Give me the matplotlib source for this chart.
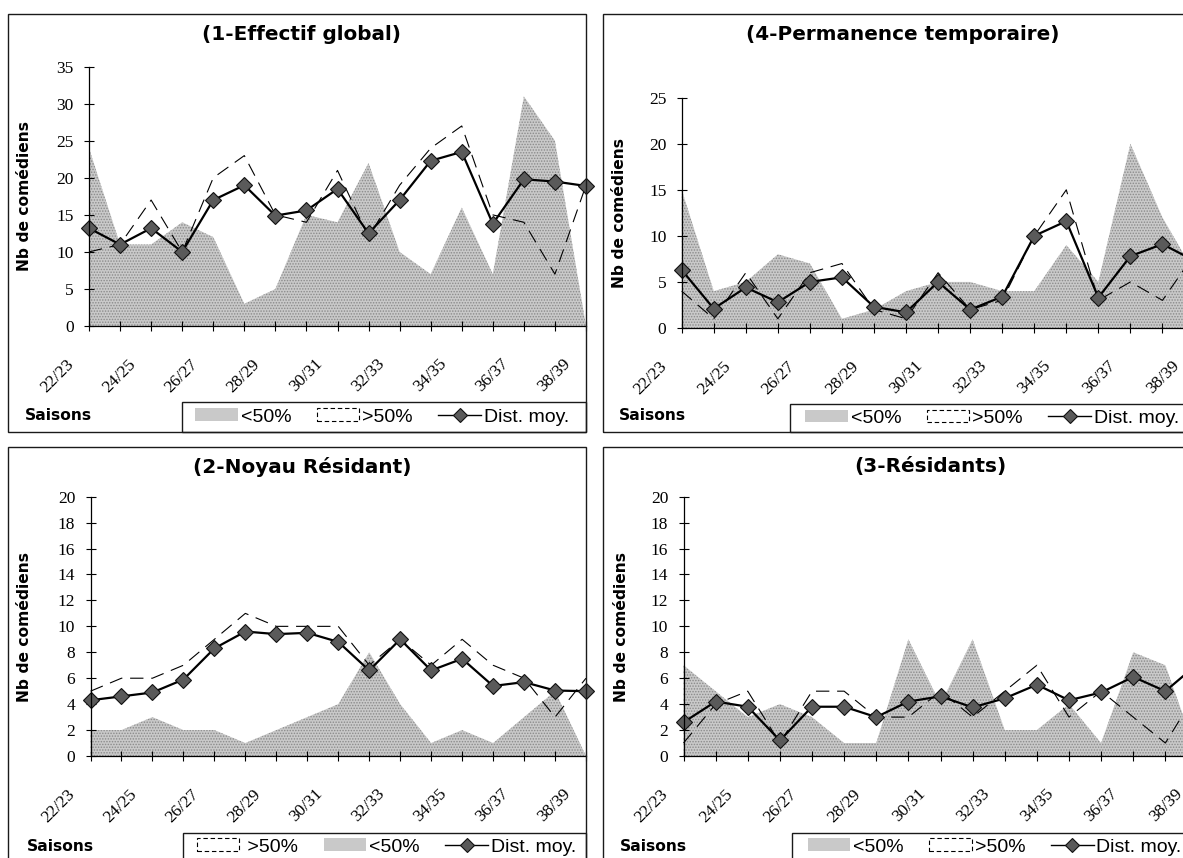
import matplotlib
matplotlib.use("Agg")
import matplotlib.pyplot as plt
from matplotlib.patches import Rectangle, Patch
from matplotlib.lines import Line2D
from matplotlib.transforms import ScaledTranslation

# ---------------- data ----------------
seasons = ["22/23", "23/24", "24/25", "25/26", "26/27", "27/28", "28/29", "29/30",
           "30/31", "31/32", "32/33", "33/34", "34/35", "35/36", "36/37", "37/38", "38/39"]

# (1-Effectif global)
lt50_1 = [24, 11, 11, 14, 12, 3, 5, 15, 14, 22, 10, 7, 16, 7, 31, 25, 0]
gt50_1 = [10, 11, 17, 10, 20, 23, 15, 14, 21, 12, 19, 24, 27, 15, 14, 7, 19]
dist_1 = [13.2, 11.0, 13.2, 10.0, 17.0, 19.0, 14.9, 15.6, 18.5, 12.5, 17.0, 22.3, 23.5, 13.8, 19.8, 19.5, 18.9]

# (4-Permanence temporaire)
lt50_4 = [15, 4, 5, 8, 7, 1, 2, 4, 5, 5, 4, 4, 9, 5, 20, 12, 6]
gt50_4 = [4, 1, 6, 1, 6, 7, 2, 1, 6, 2, 3, 10, 15, 3, 5, 3, 8]
dist_4 = [6.3, 2.1, 4.4, 2.8, 5.0, 5.5, 2.3, 1.7, 5.0, 2.0, 3.4, 10.0, 11.6, 3.3, 7.8, 9.1, 7.3]

# (2-Noyau Résidant)
lt50_2 = [2, 2, 3, 2, 2, 1, 2, 3, 4, 8, 4, 1, 2, 1, 3, 5, 0]
gt50_2 = [5, 6, 6, 7, 9, 11, 10, 10, 10, 7, 9, 7, 9, 7, 6, 3, 6]
dist_2 = [4.3, 4.6, 4.9, 5.9, 8.3, 9.6, 9.4, 9.5, 8.8, 6.6, 9.0, 6.6, 7.5, 5.4, 5.7, 5.05, 5.0]

# (3-Résidants)
lt50_3 = [7, 5, 3, 4, 3, 1, 1, 9, 4, 9, 2, 2, 4, 1, 8, 7, 0]
gt50_3 = [1, 4, 5, 1, 5, 5, 3, 3, 5, 3, 5, 7, 3, 5, 3, 1, 5]
dist_3 = [2.6, 4.2, 3.8, 1.2, 3.8, 3.8, 3.0, 4.2, 4.6, 3.75, 4.45, 5.5, 4.3, 4.9, 6.1, 5.0, 7.1]

lbl_lt = "<50%"
lbl_gt = ">50%"
lbl_dist = "Dist. moy."
ylabel = "Nb de comédiens"
xlabel = "Saisons"

# ---------------- styling ----------------
W, H = 1183, 858
plt.rcParams["hatch.color"] = "#8a8a8a"
plt.rcParams["hatch.linewidth"] = 0.7
GREY = "#c9c9c9"
HATCH = "......"
SERIF = "Liberation Serif"
SANS = "Liberation Sans"
BOLD = "DejaVu Sans"

fig = plt.figure(figsize=(W / 100, H / 100), dpi=100)
fig.patch.set_facecolor("white")


def fx(x):
    return x / W


def fy(y):
    return 1 - y / H


def frame(x0, y0, x1, y1, lw=1.0):
    fig.add_artist(Rectangle((fx(x0), fy(y1)), fx(x1) - fx(x0), fy(y0) - fy(y1),
                             transform=fig.transFigure, fill=False, ec="#1a1a1a", lw=lw))


def panel(title, lt, gt, dist, box, ax_px, ymax, ystep, title_xy, ylab_xy,
          sais_xy, leg_box, leg_anchor, order):
    frame(*box)
    left, top, right, bottom = ax_px
    ax = fig.add_axes([fx(left), fy(bottom), fx(right) - fx(left), fy(top) - fy(bottom)])
    x = list(range(len(seasons)))
    ax.fill_between(x, 0, lt, facecolor=GREY, hatch=HATCH, edgecolor="none", lw=0,
                    zorder=1, clip_on=False)
    ax.plot(x, gt, color="black", lw=0.8, dashes=(12, 7), zorder=3, clip_on=False)
    ax.plot(x, dist, color="black", lw=1.6, marker="D", markersize=8.5,
            mfc="#5a5a5a", mec="#111111", mew=0.8, zorder=4, clip_on=False)
    ax.set_xlim(0, len(seasons) - 1)
    ax.set_ylim(0, ymax)
    for s in ("top", "right"):
        ax.spines[s].set_visible(False)
    ax.spines["left"].set_linewidth(0.9)
    ax.spines["bottom"].set_linewidth(0.9)
    ax.spines["left"].set_zorder(5)
    ax.spines["bottom"].set_zorder(5)
    ax.patch.set_alpha(0)
    ax.set_yticks(list(range(0, ymax + 1, ystep)))
    ax.set_xticks(x)
    ax.set_xticklabels([])
    for t in ax.get_yticklabels():
        t.set_fontfamily(SERIF)
        t.set_fontsize(12.5)
    ax.tick_params(axis="y", direction="inout", length=7, width=0.8, pad=7.5)
    ax.tick_params(axis="x", direction="inout", length=6.5, width=0.8)

    # rotated season labels, every other season
    off = ScaledTranslation(-12 / 100, -30 / 100, fig.dpi_scale_trans)
    for i, s in enumerate(seasons):
        if i % 2 == 0:
            ax.text(i, 0, s, transform=ax.get_xaxis_transform() + off,
                    rotation=45, ha="right", va="top", fontfamily=SERIF,
                    fontsize=12.5, clip_on=False)

    fig.text(fx(title_xy[0]), fy(title_xy[1]), title, ha="center", va="center",
             fontfamily=BOLD, fontweight="bold", fontsize=14.4)
    fig.text(fx(ylab_xy[0]), fy(ylab_xy[1]), ylabel, ha="center", va="center",
             rotation=90, fontfamily=BOLD, fontweight="bold", fontsize=11.2)
    fig.text(fx(sais_xy[0]), fy(sais_xy[1]), xlabel, ha="left", va="baseline",
             fontfamily=BOLD, fontweight="bold", fontsize=11.2)

    # legend box
    frame(*leg_box)
    h_lt = Patch(facecolor=GREY, hatch=HATCH, edgecolor="none", lw=0)
    h_gt = Patch(facecolor="none", edgecolor="black", lw=0.8, linestyle=(0, (4, 2.5)))
    h_d = Line2D([], [], color="black", lw=1.0, marker="D", markersize=7,
                 mfc="#5a5a5a", mec="#111111", mew=0.8)
    hmap = {"lt": (h_lt, lbl_lt), "gt": (h_gt, lbl_gt), "gt_sp": (h_gt, " " + lbl_gt),
            "d": (h_d, lbl_dist)}
    hs = [hmap[k][0] for k in order]
    ls = [hmap[k][1] for k in order]
    fig.legend(hs, ls, loc="center left",
               bbox_to_anchor=(fx(leg_anchor[0]), fy(leg_anchor[1])),
               bbox_transform=fig.transFigure, ncol=3, frameon=False,
               borderpad=0, borderaxespad=0, handlelength=2.2,
               handleheight=0.6, handletextpad=0.15, columnspacing=1.3,
               prop={"family": SANS, "size": 14})
    return ax


# (1-Effectif global)
panel("(1-Effectif global)", lt50_1, gt50_1, dist_1,
      box=(7.5, 13.5, 586, 431.7), ax_px=(89, 66.7, 586, 326), ymax=35, ystep=5,
      title_xy=(301.5, 35), ylab_xy=(25, 196), sais_xy=(25, 420.5),
      leg_box=(181.7, 402, 586, 431.7), leg_anchor=(195, 417), order=["lt", "gt", "d"])

# (4-Permanence temporaire)
panel("(4-Permanence temporaire)", lt50_4, gt50_4, dist_4,
      box=(602.7, 13.5, 1230, 431.7), ax_px=(681.7, 97.7, 1194.5, 328), ymax=25, ystep=5,
      title_xy=(903, 35), ylab_xy=(620, 213), sais_xy=(619, 420.5),
      leg_box=(790, 404, 1230, 431.7), leg_anchor=(805, 418.5), order=["lt", "gt", "d"])

# (2-Noyau Résidant)
panel("(2-Noyau Résidant)", lt50_2, gt50_2, dist_2,
      box=(7.5, 446.7, 586, 880), ax_px=(90.5, 496.7, 586, 756), ymax=20, ystep=2,
      title_xy=(302, 466.5), ylab_xy=(25, 627), sais_xy=(26.5, 851),
      leg_box=(183, 833, 586, 880), leg_anchor=(196.6, 847), order=["gt_sp", "lt", "d"])

# (3-Résidants)
panel("(3-Résidants)", lt50_3, gt50_3, dist_3,
      box=(602.7, 447, 1230, 880), ax_px=(683.5, 496.7, 1197.5, 756), ymax=20, ystep=2,
      title_xy=(930, 466.5), ylab_xy=(621, 627), sais_xy=(620, 851),
      leg_box=(792, 833, 1230, 880), leg_anchor=(807.6, 847), order=["lt", "gt", "d"])

fig.savefig("out.png", dpi=100, facecolor="white")
